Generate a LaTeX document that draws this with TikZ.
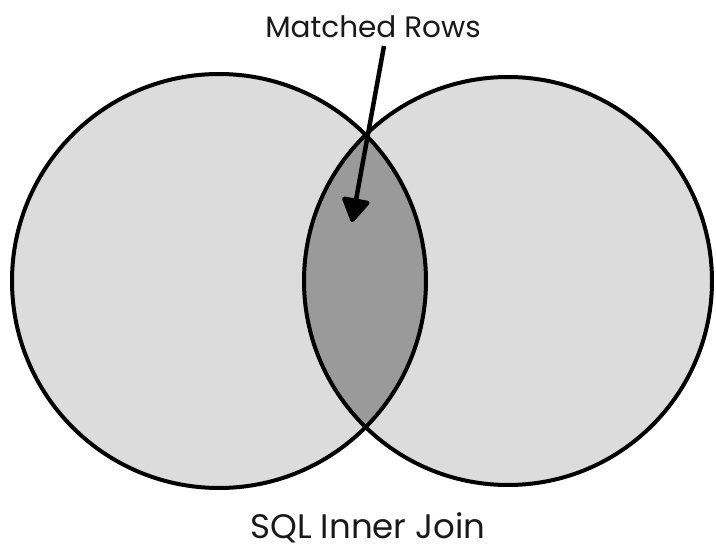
\documentclass[tikz,border=0pt]{standalone}
\usepackage{fontspec}
\setmainfont{Poppins}
\usetikzlibrary{arrows.meta}
\begin{document}
\begin{tikzpicture}[x=1pt,y=-1pt,
  outline/.style={draw=black,line width=4pt},
  label/.style={inner sep=0pt,anchor=base,text=black!90},
  pointer/.style={draw=black,line width=4.5pt,-{Triangle[length=26pt,width=30pt,round]}}]
  \definecolor{setgray}{HTML}{DCDCDC}
  \definecolor{lensgray}{HTML}{9A9A9A}
  \useasboundingbox (0,0) rectangle (716,551);
  % set centres
  \coordinate (A) at (219,281);
  \coordinate (B) at (508,281);
  % filled sets
  \fill[setgray] (A) circle[radius=207];
  \fill[setgray] (B) circle[radius=204];
  % overlap region
  \begin{scope}
    \clip (A) circle[radius=207];
    \fill[lensgray] (B) circle[radius=204];
  \end{scope}
  % outlines
  \draw[outline] (A) circle[radius=207];
  \draw[outline] (B) circle[radius=204];
  % labels
  \node[label,font=\fontsize{29.5}{32}\selectfont] (title) at (373,38) {Matched Rows};
  \node[label,font=\fontsize{34}{38}\selectfont] (caption) at (368,538) {SQL Inner Join};
  \coordinate (tail) at (384,46);
  \coordinate (tip) at (352,222);
  \draw[pointer] (tail) -- (tip);
\end{tikzpicture}
\end{document}
